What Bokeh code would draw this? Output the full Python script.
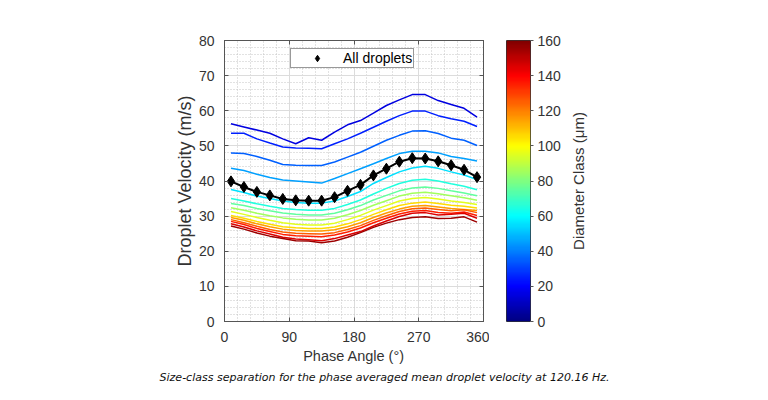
import numpy as np
from bokeh.plotting import figure
from bokeh.layouts import row, column
from bokeh.models import (ColumnDataSource, LinearColorMapper, FixedTicker, LinearAxis,
                          Legend, LegendItem, Title)
from bokeh.embed import file_html
from bokeh.resources import INLINE

# ---------------- data ----------------
phase = [9, 27, 45, 63, 81, 99, 117, 135, 153, 171, 189, 207, 225, 243, 261, 279, 297, 315, 333, 351]
diam_classes = [15, 25, 35, 45, 55, 65, 75, 85, 95, 105, 115, 125, 135, 145, 155]

v_d15 = [56.3, 55.4, 54.5, 53.6, 52.0, 50.6, 52.3, 51.6, 53.9, 56.0, 57.2, 59.3, 61.5, 63.1, 64.6, 64.6, 62.9, 61.8, 60.7, 58.2]
v_d25 = [53.6, 53.6, 52.0, 50.8, 49.7, 49.4, 49.3, 49.2, 50.6, 52.0, 53.6, 55.3, 57.0, 58.6, 59.9, 59.9, 58.6, 57.7, 57.0, 55.5]
v_d35 = [48.0, 47.8, 47.0, 45.9, 44.7, 44.5, 44.4, 44.4, 45.4, 46.8, 48.2, 49.9, 51.6, 53.0, 54.2, 54.3, 53.5, 52.2, 51.6, 50.1]
v_d45 = [43.6, 43.0, 41.9, 41.0, 40.3, 40.0, 39.7, 39.4, 40.7, 42.1, 43.5, 44.9, 46.4, 47.8, 48.5, 48.5, 48.0, 47.0, 46.4, 45.7]
v_d55 = [37.6, 36.7, 35.7, 35.0, 34.3, 33.9, 33.7, 33.7, 34.3, 35.6, 37.0, 39.3, 41.0, 42.6, 43.7, 44.2, 43.6, 42.6, 41.7, 40.4]
v_d65 = [35.0, 34.3, 33.5, 32.8, 32.2, 31.9, 31.7, 31.7, 32.2, 33.3, 34.6, 36.3, 37.9, 39.3, 40.2, 40.5, 40.0, 39.2, 38.5, 37.5]
v_d75 = [33.6, 33.0, 32.2, 31.5, 30.9, 30.5, 30.3, 30.3, 30.8, 31.8, 33.0, 34.6, 35.9, 37.2, 38.0, 38.3, 37.9, 37.2, 36.6, 35.8]
v_d85 = [32.4, 31.7, 30.8, 30.1, 29.5, 29.1, 28.9, 28.9, 29.4, 30.4, 31.6, 33.1, 34.4, 35.7, 36.5, 36.8, 36.4, 35.8, 35.2, 34.5]
v_d95 = [31.3, 30.5, 29.6, 28.8, 28.1, 27.7, 27.5, 27.5, 28.0, 29.0, 30.2, 31.7, 33.0, 34.3, 35.0, 35.3, 34.9, 34.3, 33.9, 33.3]
v_d105 = [30.2, 29.4, 28.5, 27.7, 27.0, 26.7, 26.5, 26.5, 26.9, 27.8, 29.0, 30.5, 31.8, 33.0, 33.7, 34.0, 33.6, 33.1, 32.8, 32.3]
v_d115 = [29.6, 28.8, 27.8, 27.0, 26.3, 25.9, 25.8, 25.8, 26.1, 27.0, 28.1, 29.6, 30.9, 32.0, 32.8, 33.0, 32.6, 32.2, 31.9, 31.6]
v_d125 = [29.0, 28.1, 27.1, 26.2, 25.5, 25.1, 25.0, 24.9, 25.3, 26.2, 27.3, 28.8, 30.1, 31.3, 32.1, 32.3, 31.9, 31.5, 31.8, 31.0]
v_d135 = [28.5, 27.6, 26.5, 25.6, 24.8, 24.4, 24.3, 24.1, 24.6, 25.5, 26.6, 28.1, 29.4, 30.6, 31.4, 31.6, 31.0, 30.8, 31.2, 30.2]
v_d145 = [27.8, 26.9, 25.8, 24.9, 24.0, 23.5, 23.3, 23.0, 23.6, 24.6, 25.6, 27.2, 28.6, 29.9, 30.8, 31.0, 30.3, 30.5, 30.8, 29.4]
v_d155 = [27.2, 26.3, 25.2, 24.3, 23.6, 23.0, 22.9, 22.4, 22.9, 24.0, 25.3, 26.8, 28.0, 29.0, 29.6, 29.8, 29.3, 29.4, 29.8, 28.3]

all_droplets = [39.9, 38.3, 36.9, 35.9, 34.9, 34.5, 34.4, 34.4, 35.4, 37.2, 38.9, 41.6, 43.5, 45.5, 46.5, 46.4, 45.6, 44.5, 43.2, 41.1]

x_ticks = [0, 90, 180, 270, 360]
y_ticks = [0, 10, 20, 30, 40, 50, 60, 70, 80]
cbar_ticks = [0, 20, 40, 60, 80, 100, 120, 140, 160]

series = [v_d15, v_d25, v_d35, v_d45, v_d55, v_d65, v_d75, v_d85, v_d95, v_d105,
          v_d115, v_d125, v_d135, v_d145, v_d155]

CAPTION = "Size-class separation for the phase averaged mean droplet velocity at 120.16 Hz."

# ---------------- jet colormap ----------------
def jet(n):
    cols = []
    for i in range(n):
        t = i / (n - 1)
        r = min(max(1.5 - abs(4 * t - 3), 0), 1)
        g = min(max(1.5 - abs(4 * t - 2), 0), 1)
        b = min(max(1.5 - abs(4 * t - 1), 0), 1)
        cols.append("#%02x%02x%02x" % (round(r * 255), round(g * 255), round(b * 255)))
    return cols

JET = jet(256)
CB_LOW, CB_HIGH = cbar_ticks[0], cbar_ticks[-1]
mapper = LinearColorMapper(palette=JET, low=CB_LOW, high=CB_HIGH)

FONT = "Liberation Sans"
TXT = "#333333"
AX = "#555555"
FRAME_W, FRAME_H = 259, 281
TOP, BOTTOM = 40, 47

# ---------------- main plot ----------------
p = figure(frame_width=FRAME_W, frame_height=FRAME_H,
           min_border_left=224, min_border_top=TOP, min_border_right=6, min_border_bottom=BOTTOM,
           x_range=(x_ticks[0], x_ticks[-1]), y_range=(y_ticks[0], y_ticks[-1]),
           output_backend="svg", toolbar_location=None)
p.background_fill_color = "white"
p.border_fill_color = "white"
p.outline_line_color = AX

minor_x = list(range(x_ticks[0], x_ticks[-1] + 1, 18))
minor_y = list(range(y_ticks[0], y_ticks[-1] + 1, 2))
p.xaxis.ticker = FixedTicker(ticks=x_ticks, minor_ticks=minor_x)
p.yaxis.ticker = FixedTicker(ticks=y_ticks, minor_ticks=minor_y)
for g in (p.xgrid[0], p.ygrid[0]):
    g.grid_line_color = "#dcdcdc"
    g.grid_line_width = 1
    g.minor_grid_line_color = "#c4c4c4"
    g.minor_grid_line_dash = "1 2"
    g.minor_grid_line_width = 1

for ax in (p.xaxis[0], p.yaxis[0]):
    ax.major_tick_in = 4
    ax.major_tick_out = 0
    ax.minor_tick_line_color = None
    ax.axis_line_color = AX
    ax.major_tick_line_color = AX
    ax.major_label_text_font = FONT
    ax.major_label_text_font_size = "14px"
    ax.major_label_text_color = TXT
    ax.axis_label_text_font = FONT
    ax.axis_label_text_font_style = "normal"
    ax.axis_label_text_color = TXT

p.xaxis.axis_label = "Phase Angle (°)"
p.xaxis.axis_label_text_font_size = "14.5px"
p.xaxis.major_label_standoff = 6
p.xaxis.axis_label_standoff = 3
p.yaxis.axis_label = "Droplet Velocity (m/s)"
p.yaxis.axis_label_text_font_size = "18px"
p.yaxis.major_label_standoff = 6
p.yaxis.axis_label_standoff = 1

# box ticks on top and right (no labels)
top_ax = LinearAxis(ticker=FixedTicker(ticks=x_ticks),
                    major_label_overrides={t: "" for t in x_ticks},
                    major_tick_in=4, major_tick_out=0, minor_tick_line_color=None,
                    axis_line_color=AX, major_tick_line_color=AX,
                    major_label_standoff=0, major_label_text_font_size="1px")
right_ax = LinearAxis(ticker=FixedTicker(ticks=y_ticks),
                      major_label_overrides={t: "" for t in y_ticks},
                      major_tick_in=4, major_tick_out=0, minor_tick_line_color=None,
                      axis_line_color=AX, major_tick_line_color=AX,
                      major_label_standoff=0, major_label_text_font_size="1px")
p.add_layout(top_ax, "above")
p.add_layout(right_ax, "right")

src = ColumnDataSource(dict(xs=[phase] * len(series), ys=series, d=diam_classes))
p.multi_line("xs", "ys", source=src, line_width=1.5,
             line_color={"field": "d", "transform": mapper})

p.line(phase, all_droplets, line_color="black", line_width=2)
sc = p.scatter(phase, all_droplets, marker="diamond", size=11,
               fill_color="black", line_color="black")

legend = Legend(items=[LegendItem(label="All droplets", renderers=[sc])],
                location=(66, 253), margin=0, padding=1, spacing=0,
                glyph_width=50, glyph_height=16, label_height=16, label_standoff=1,
                label_text_font=FONT, label_text_font_size="14px", label_text_color="black",
                border_line_color="#333333", border_line_width=1,
                background_fill_color="white", background_fill_alpha=1)
p.add_layout(legend, "center")

# ---------------- colorbar (own small figure) ----------------
q = figure(frame_width=24, frame_height=FRAME_H,
           min_border_left=17, min_border_top=TOP, min_border_right=37, min_border_bottom=BOTTOM,
           x_range=(0, 1), y_range=(CB_LOW, CB_HIGH), y_axis_location="right",
           output_backend="svg", toolbar_location=None)
grad = np.linspace(CB_LOW, CB_HIGH, 256).reshape(256, 1)
q.image(image=[grad], x=0, y=CB_LOW, dw=1, dh=CB_HIGH - CB_LOW, color_mapper=mapper)
q.xaxis.visible = False
q.grid.visible = False
q.outline_line_color = "#333333"
q.border_fill_color = "white"
qa = q.yaxis[0]
qa.ticker = FixedTicker(ticks=cbar_ticks)
qa.major_tick_in = 0
qa.major_tick_out = 3
qa.minor_tick_line_color = None
qa.axis_line_color = None
qa.major_tick_line_color = AX
qa.major_label_standoff = 4
qa.major_label_text_font = FONT
qa.major_label_text_font_size = "14px"
qa.major_label_text_color = TXT

# ---------------- colorbar title (reads bottom-to-top) ----------------
r = figure(frame_width=8, frame_height=FRAME_H,
           min_border_left=0, min_border_top=TOP, min_border_right=0, min_border_bottom=BOTTOM,
           output_backend="svg", toolbar_location=None)
r.axis.visible = False
r.grid.visible = False
r.outline_line_color = None
r.border_fill_color = "white"
r.add_layout(Title(text="Diameter Class (μm)", align="center", text_font=FONT,
                   text_font_style="normal", text_font_size="15px", text_color=TXT,
                   standoff=0), "left")

# ---------------- caption ----------------
cap = figure(width=768, height=24, min_border_left=0, min_border_right=0,
             min_border_top=3, min_border_bottom=0,
             output_backend="svg", toolbar_location=None)
cap.axis.visible = False
cap.grid.visible = False
cap.outline_line_color = None
cap.border_fill_color = "white"
cap.add_layout(Title(text=CAPTION, align="center", text_font="DejaVu Sans",
                     text_font_style="italic", text_font_size="11px",
                     text_color="#111111", standoff=0), "above")

layout = column(row(p, q, r), cap)
open("out.html", "w").write(file_html(layout, INLINE))
